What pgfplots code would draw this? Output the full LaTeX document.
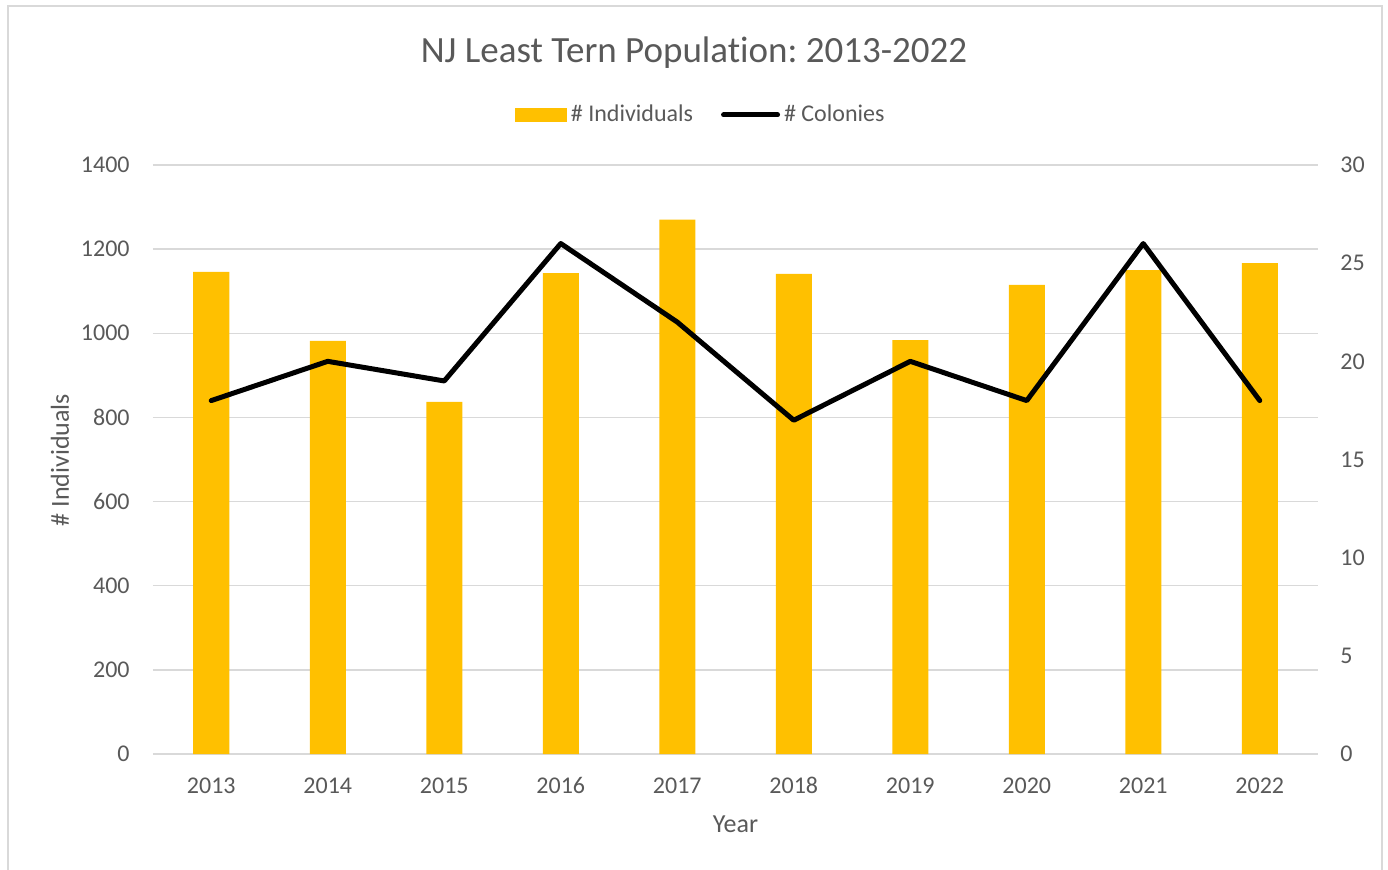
\documentclass[border=0pt]{standalone}
\usepackage{pgfplots}
\pgfplotsset{compat=1.18}
\usepackage{fontspec}
\setmainfont{Carlito}[Ligatures={NoCommon}]
\definecolor{barc}{HTML}{FFC000}
\definecolor{txt}{HTML}{595959}
\definecolor{grd}{HTML}{D9D9D9}
\frenchspacing
\begin{document}
\begin{tikzpicture}
\useasboundingbox (0,0) rectangle (694pt,434.5pt);
\draw[grd, line width=1pt] (4pt,-5pt) -- (4pt,431.5pt) -- (691pt,431.5pt) -- (691pt,-5pt);
\node[text=txt, font=\fontsize{18.5}{22}\selectfont] at (347pt,408pt) {NJ Least Tern Population: 2013-2022};
\begin{axis}[
  at={(76.5pt,57.5pt)}, anchor=south west,
  scale only axis, width=582.5pt, height=294.5pt,
  xmin=-0.5, xmax=9.5, ymin=0, ymax=1400,
  ytick={0,200,...,1400},
  xtick={0,...,9},
  xticklabels={2013,2014,2015,2016,2017,2018,2019,2020,2021,2022},
  axis x line*=bottom, axis y line*=left,
  axis line style={draw=none},
  major tick length=0pt,
  ymajorgrids, grid style={grd, line width=0.75pt},
  tick label style={font=\fontsize{12}{14}\selectfont, text=txt},
  /pgf/number format/assume math mode=true,
  /pgf/number format/1000 sep={},
  yticklabel style={inner sep=0pt, anchor=east, xshift=-11.5pt},
  xticklabel style={inner sep=0pt, anchor=base, yshift=-19.5pt},
  ylabel={\# Individuals}, xlabel={Year},
  label style={font=\fontsize{13}{15}\selectfont, text=txt},
  ylabel style={at={(axis description cs:-0.0798,0.499)}, anchor=center},
  xlabel style={at={(axis description cs:0.5,0)}, anchor=center, yshift=-35pt},
  legend columns=2,
  legend style={at={(axis description cs:0.4710,1.085)}, anchor=center, draw=none, fill=none,
    font=\fontsize{12}{14}\selectfont, text=txt,
    /tikz/every even column/.append style={column sep=12pt}},
]
\addplot[ybar, bar width=18pt, fill=barc, draw=none,
  legend image code/.code={\fill[barc] (0pt,-3.5pt) rectangle (26pt,3.5pt);}]
  coordinates {(0,1146) (1,982) (2,837) (3,1143) (4,1270) (5,1141) (6,984) (7,1115) (8,1150) (9,1167)};
\addlegendentry{\# Individuals}
\addlegendimage{legend image code/.code={\draw[black, line width=2.5pt, line cap=round] (0pt,0pt) -- (27pt,0pt);}}
\addlegendentry{\# Colonies}
\end{axis}
\begin{axis}[
  at={(76.5pt,57.5pt)}, anchor=south west,
  scale only axis, width=582.5pt, height=294.5pt,
  xmin=-0.5, xmax=9.5, ymin=0, ymax=30,
  ytick={0,5,...,30},
  axis x line=none, axis y line*=right,
  axis line style={draw=none},
  major tick length=0pt,
  tick label style={font=\fontsize{12}{14}\selectfont, text=txt},
  /pgf/number format/assume math mode=true,
  yticklabel style={inner sep=0pt, anchor=west, xshift=11pt},
]
\addplot[black, line width=2.5pt, line join=round, line cap=round, mark=none]
  coordinates {(0,18) (1,20) (2,19) (3,26) (4,22) (5,17) (6,20) (7,18) (8,26) (9,18)};
\end{axis}
\end{tikzpicture}
\end{document}
